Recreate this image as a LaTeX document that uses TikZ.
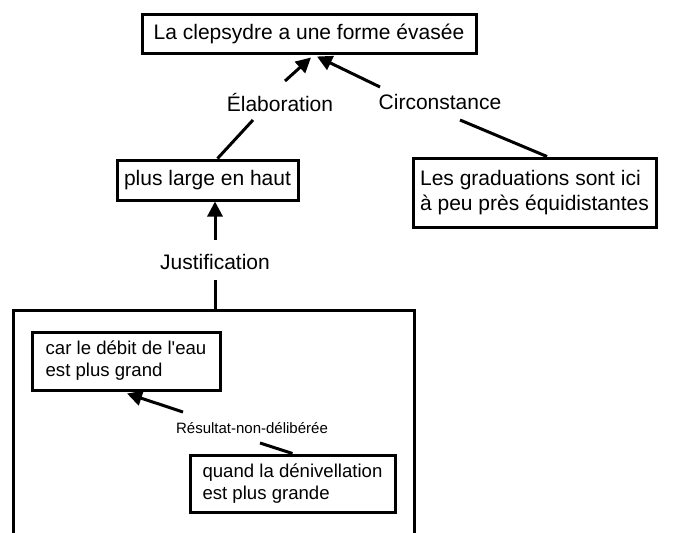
\documentclass[tikz,border=0pt]{standalone}
\usepackage{fontspec}
\setmainfont{Liberation Sans}
% plain face without TeX ligatures, so that ' stays a straight quote
\newfontfamily\boxfont{Liberation Sans}
\usetikzlibrary{arrows.meta,calc}
\begin{document}
\begin{tikzpicture}[x=1pt,y=-1pt,
  seg/.style={draw=black,line width=3pt,
    minimum height=#1,inner sep=0pt,align=left,
    font=\boxfont\fontsize{21}{25}\selectfont},
  inseg/.style={draw=black,line width=3pt,
    minimum height=#1,inner sep=0pt,align=left,
    font=\boxfont\fontsize{18.6}{22}\selectfont},
  rel/.style={inner sep=0pt,font=\boxfont\fontsize{21}{25}\selectfont},
  smallrel/.style={inner sep=0pt,font=\boxfont\fontsize{15}{18}\selectfont},
  link/.style={line width=3pt},
  arr/.style={line width=3pt,-{Triangle[length=15pt,width=15pt]}}]
\useasboundingbox (0,0) rectangle (673,533);

% segments
\node[seg=39pt,minimum width=334pt] (top) at (309,33.5) {La clepsydre a une forme évasée};
\node[seg=40pt,minimum width=181pt] (plus) at (207.5,180) {plus large en haut};
\node[seg=69pt,minimum width=243pt] (grad) at (534.5,192.5) {Les graduations sont ici\\à peu près équidistantes};

% relation labels
\node[rel] (elab) at (280,102) {Élaboration};
\node[rel] (circ) at (440,102) {Circonstance};
\node[rel] (just) at (215,262) {Justification};

% span enclosing the justification (open at the bottom)
\draw[line width=3pt] (13,540) -- (13,310) -- (414,310) -- (414,540);
\coordinate (bigtop) at (215,310);

\node[inseg=58pt,minimum width=188pt] (car) at (126,361) {car le débit de l'eau\\est plus grand};
\node[inseg=57pt,minimum width=205pt] (quand) at (292.5,483.5) {quand la dénivellation\\est plus grande};
\node[smallrel] (res) at (252,428) {Résultat-non-délibérée};

% connectors
\draw[arr] ($(elab.center)+(5,-21)$) -- ($(top.south)+(2,3)$);
\draw[arr] ($(circ.center)+(-60,-15)$) -- ($(top.south)+(8,2)$);
\draw[link] ($(elab.center)+(-27,18)$) -- ($(plus.north)+(10,0)$);
\draw[link] ($(circ.center)+(20,18)$) -- ($(grad.north)+(12.5,0)$);
\draw[arr] ($(just.center)+(0,-22)$) -- (just |- plus.south);
\draw[link] ($(just.center)+(0,18)$) -- (bigtop);
\draw[arr] ($(res.center)+(-69,-16)$) -- ($(car.south)+(1,2)$);
\draw[link] ($(res.center)+(8,15)$) -- (quand.north);
\end{tikzpicture}
\end{document}
